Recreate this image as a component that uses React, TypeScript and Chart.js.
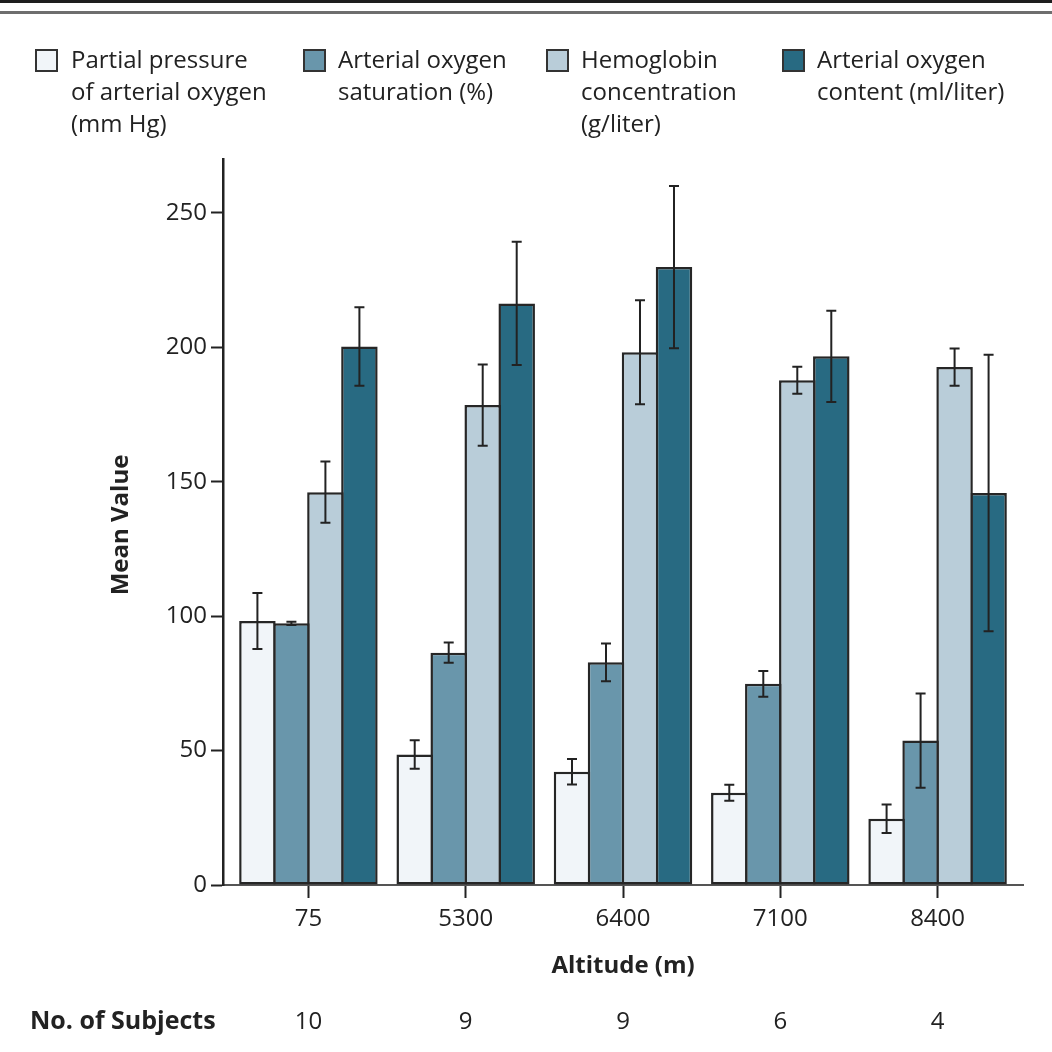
import React, { useEffect, useRef } from "react";
import { Chart, registerables } from "chart.js";

Chart.register(...registerables);

// ---- data ----
const altitudes = ["75", "5300", "6400", "7100", "8400"];
const subjectCounts = ["10", "9", "9", "6", "4"];
const yTickValues = [0, 50, 100, 150, 200, 250];

const seriesNames = [
  ["Partial pressure", "of arterial oxygen", "(mm Hg)"],
  ["Arterial oxygen", "saturation (%)"],
  ["Hemoglobin", "concentration", "(g/liter)"],
  ["Arterial oxygen", "content (ml/liter)"],
];
const seriesColors = ["#f1f5f9", "#6996ab", "#b9cdd9", "#286a82"];

const pao2 = [98.2, 48.5, 42.1, 34.3, 24.6];
const pao2Sd = [10.4, 5.3, 4.75, 3.0, 5.3];
const sao2 = [97.3, 86.4, 82.8, 74.8, 53.7];
const sao2Sd = [0.6, 3.75, 7.05, 4.75, 17.5];
const hb = [146.1, 178.5, 198.1, 187.7, 192.6];
const hbSd = [11.4, 15.1, 19.35, 5.05, 6.9];
const cao2 = [200.3, 216.3, 229.8, 196.6, 145.8];
const cao2Sd = [14.6, 22.9, 30.2, 17.0, 51.4];

const seriesValues = [pao2, sao2, hb, cao2];
const seriesErrors = [pao2Sd, sao2Sd, hbSd, cao2Sd];

const FONT = "'Open Sans', 'Noto Sans', sans-serif";
const INK = "#222222";

const errorBarPlugin = {
  id: "errorBars",
  afterDatasetsDraw(chart: any) {
    const ctx = chart.ctx;
    const y = chart.scales.y;
    ctx.save();
    ctx.strokeStyle = INK;
    ctx.lineWidth = 2;
    chart.data.datasets.forEach((ds: any, i: number) => {
      const meta = chart.getDatasetMeta(i);
      meta.data.forEach((el: any, j: number) => {
        const mean = seriesValues[i][j];
        const sd = seriesErrors[i][j];
        const top = y.getPixelForValue(mean + sd);
        const bot = y.getPixelForValue(mean - sd);
        const x = el.x;
        const cap = 5;
        ctx.beginPath();
        ctx.moveTo(x, top);
        ctx.lineTo(x, bot);
        ctx.moveTo(x - cap, top);
        ctx.lineTo(x + cap, top);
        ctx.moveTo(x - cap, bot);
        ctx.lineTo(x + cap, bot);
        ctx.stroke();
      });
    });
    ctx.restore();
  },
};

const decorPlugin = {
  id: "decor",
  afterDraw(chart: any) {
    const ctx = chart.ctx;
    const W = chart.width;
    const xs = chart.scales.x;
    const area = chart.chartArea;
    ctx.save();
    // top rules
    ctx.fillStyle = "#1e1e1e";
    ctx.fillRect(0, 0, W, 3);
    ctx.fillStyle = "#6e6e6e";
    ctx.fillRect(0, 11, W, 3);

    // legend
    const boxX = [35, 303, 546, 782];
    const textX = [71, 338, 581, 817];
    ctx.font = `24px ${FONT}`;
    ctx.textBaseline = "alphabetic";
    ctx.textAlign = "left";
    seriesNames.forEach((lines, i) => {
      ctx.fillStyle = seriesColors[i];
      ctx.fillRect(boxX[i], 49, 23, 23);
      ctx.strokeStyle = "#333";
      ctx.lineWidth = 2;
      ctx.strokeRect(boxX[i] + 1, 50, 21, 21);
      ctx.fillStyle = INK;
      lines.forEach((t, k) => {
        ctx.fillText(t, textX[i], 68 + k * 32);
      });
    });

    // y-axis title
    ctx.save();
    ctx.translate(121, (area.top + area.bottom) / 2 + 3);
    ctx.rotate(-Math.PI / 2);
    ctx.font = `bold 24px ${FONT}`;
    ctx.textAlign = "center";
    ctx.textBaseline = "middle";
    ctx.fillStyle = INK;
    ctx.fillText("Mean Value", 0, 0);
    ctx.restore();

    // x-axis title
    ctx.font = `bold 24px ${FONT}`;
    ctx.textAlign = "center";
    ctx.textBaseline = "middle";
    ctx.fillStyle = INK;
    ctx.fillText("Altitude (m)", (area.left + area.right) / 2, 966);

    // number of subjects row
    ctx.textAlign = "left";
    ctx.font = `bold 25px ${FONT}`;
    ctx.fillText("No. of Subjects", 30, 1022);
    ctx.font = `24px ${FONT}`;
    ctx.textAlign = "center";
    subjectCounts.forEach((n, i) => {
      ctx.fillText(n, xs.getPixelForValue(i), 1022);
    });
    ctx.restore();
  },
};

export default function App() {
  const ref = useRef<HTMLCanvasElement | null>(null);

  useEffect(() => {
    document.body.style.margin = "0";
    const canvas = ref.current;
    if (!canvas) return;
    const chart = new Chart(canvas, {
      type: "bar",
      data: {
        datasets: seriesValues.map((vals, i) => ({
          label: seriesNames[i].join(" "),
          data: vals.map((v, j) => ({ x: j, y: v })),
          backgroundColor: seriesColors[i],
          borderColor: "#262626",
          borderWidth: 2.5,
          borderSkipped: false,
          categoryPercentage: 136 / 157.3,
          barPercentage: 36.5 / 34,
        })),
      },
      options: {
        responsive: false,
        animation: false,
        layout: { padding: { top: 159, right: 29, left: 0, bottom: 0 } },
        plugins: {
          legend: { display: false },
          tooltip: { enabled: false },
        },
        scales: {
          x: {
            type: "linear",
            offset: false,
            min: -0.543,
            max: 4.543,
            afterBuildTicks: (s: any) => {
              s.ticks = altitudes.map((_, i) => ({ value: i }));
            },
            afterFit: (s: any) => {
              s.height = 167;
            },
            ticks: {
              callback: (v: any) => altitudes[v] ?? "",
              font: { family: FONT, size: 24 },
              color: INK,
              padding: 7,
              maxRotation: 0,
              autoSkip: false,
            },
            grid: {
              offset: false,
              drawOnChartArea: false,
              drawTicks: true,
              tickLength: 13,
              tickColor: INK,
              tickWidth: 2,
            },
            border: { display: true, color: "#555", width: 2 },
          },
          y: {
            type: "linear",
            min: 0,
            max: 270,
            afterBuildTicks: (s: any) => {
              s.ticks = yTickValues.map((v) => ({ value: v }));
            },
            afterFit: (s: any) => {
              s.width = 223;
            },
            ticks: {
              font: { family: FONT, size: 24 },
              color: INK,
              padding: 4,
            },
            grid: {
              drawOnChartArea: false,
              drawTicks: true,
              tickLength: 12,
              tickColor: INK,
              tickWidth: 2,
            },
            border: { display: true, color: INK, width: 2.5 },
          },
        },
      },
      plugins: [errorBarPlugin, decorPlugin],
    } as any);
    return () => chart.destroy();
  }, []);

  return (
    <div style={{ position: "absolute", left: 0, top: 0, width: 1052, height: 1052, background: "#fff" }}>
      <canvas ref={ref} width={1052} height={1052} style={{ width: 1052, height: 1052, display: "block" }} />
    </div>
  );
}
